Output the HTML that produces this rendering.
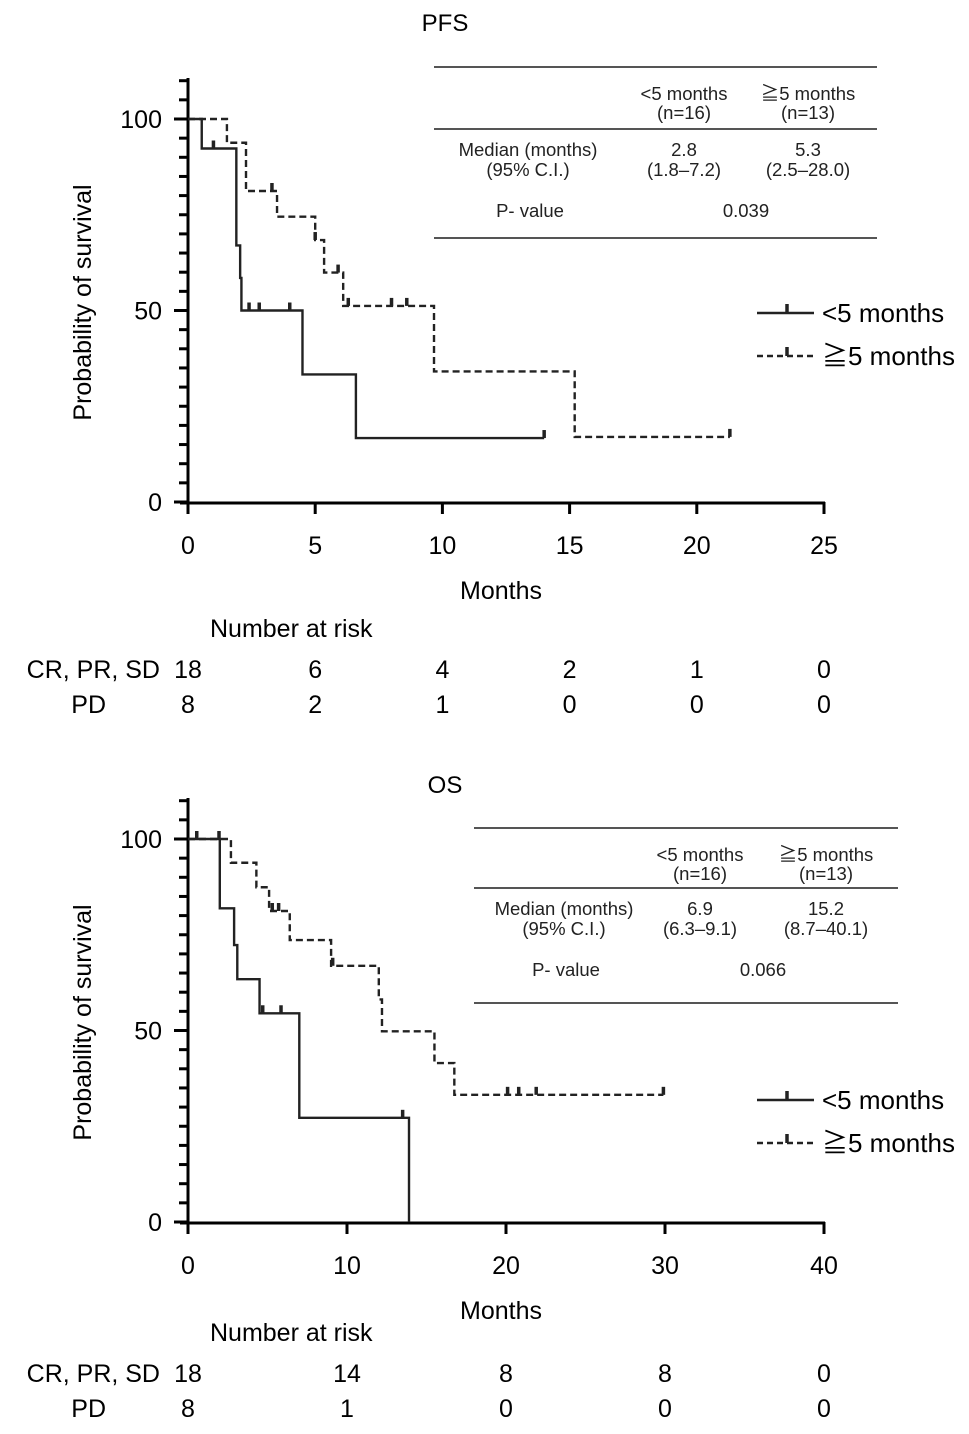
<!DOCTYPE html>
<html><head><meta charset="utf-8"><style>
body{margin:0;background:#fff;}
svg{display:block;font-family:"Liberation Sans","Noto Sans CJK JP",sans-serif;}
</style></head><body>
<svg id="c" width="969" height="1434" viewBox="0 0 969 1434"></svg>
<script>
// PFS data
const pfsXTicks=[0,5,10,15,20,25];
const pfsLt5Steps=[[0,100],[0.54,92.3],[1.9,67],[2.05,58.5],[2.1,50],[4.5,33.3],[6.6,16.7],[14.0,16.7]];
const pfsLt5Cens=[[1.0,92.3],[2.4,50],[2.8,50],[4.0,50],[14.0,16.7]];
const pfsGe5Steps=[[0,100],[1.53,93.8],[2.28,81.2],[3.5,74.5],[5.0,68.4],[5.35,59.9],[6.1,51.2],[9.67,34.1],[15.2,17],[21.3,17]];
const pfsGe5Cens=[[3.3,81.2],[5.0,68.4],[5.9,59.9],[6.3,51.2],[8.0,51.2],[8.6,51.2],[21.3,17]];
const pfsRiskA=["18","6","4","2","1","0"];
const pfsRiskB=["8","2","1","0","0","0"];
// OS data
const osXTicks=[0,10,20,30,40];
const osLt5Steps=[[0,100],[2.0,81.9],[2.9,72.3],[3.1,63.4],[4.5,54.5],[7.0,27.2],[13.9,27.2],[13.9,0]];
const osLt5Cens=[[0.55,100],[1.95,100],[4.7,54.5],[5.85,54.5],[13.5,27.2]];
const osGe5Steps=[[0,100],[2.7,93.8],[4.3,87.4],[5.1,81.2],[6.4,73.6],[9.0,66.9],[12.0,58.1],[12.2,49.8],[15.5,41.5],[16.75,33.2],[29.9,33.2]];
const osGe5Cens=[[5.3,81.2],[5.7,81.2],[9.1,66.9],[20.1,33.2],[20.8,33.2],[21.9,33.2],[29.9,33.2]];
const osRiskA=["18","14","8","8","0"];
const osRiskB=["8","1","0","0","0"];

const svg=document.getElementById('c');
const NS='http://www.w3.org/2000/svg';
function mk(tag,attrs,parent,text){const e=document.createElementNS(NS,tag);for(const k in attrs)e.setAttribute(k,attrs[k]);if(text!==undefined)e.textContent=text;(parent||svg).appendChild(e);return e;}

function panel(o){
  const g=mk('g',{});
  
  
  const x0=188,x1=824,y100=o.y100,y0=o.y0;
  const X=v=>x0+(v/o.xmax)*(x1-x0);
  const Y=v=>y0-(v/100)*(y0-y100);
  const t=mk('text',{x:445,y:o.titleY,'font-size':24,'text-anchor':'middle'},g,o.title);
  
  const ax=mk('path',{d:`M${x0},${o.yTop} V${y0+1} M${x0-8},${y0+1} H${x1+1}`,stroke:'#000','stroke-width':3,fill:'none'},g);
  
  for(let v=0;Y(v)>=o.yTop-1;v+=5){
    const major=v%50===0;
    mk('line',{x1:major?x0-14:x0-9,x2:x0,y1:Y(v),y2:Y(v),stroke:'#000','stroke-width':3},g);
    if(major){const l=mk('text',{x:162,y:Y(v)+9,'font-size':25,'text-anchor':'end'},g,String(v));}
  }
  o.xticks.forEach(v=>{
    mk('line',{x1:X(v),x2:X(v),y1:y0,y2:y0+12,stroke:'#000','stroke-width':3},g);
    const l=mk('text',{x:X(v),y:y0+52,'font-size':25,'text-anchor':'middle'},g,String(v));
    
  });
  const yt=mk('text',{x:0,y:0,'font-size':25,'text-anchor':'middle',transform:`translate(91,${(y0+y100)/2-8}) rotate(-90)`},g,'Probability of survival');
  
  const xt=mk('text',{x:501,y:y0+97,'font-size':25,'text-anchor':'middle'},g,'Months');
  
  function curve(steps,cens,dash,name){
    let d=`M${X(steps[0][0])},${Y(steps[0][1])}`;
    for(let i=1;i<steps.length;i++){d+=` H${X(steps[i][0])} V${Y(steps[i][1])}`;}
    const p=mk('path',{d,stroke:'#222','stroke-width':2.4,fill:'none','stroke-dasharray':dash?'7,4':'none'},g);
    
    cens.forEach(c=>{const m=mk('line',{x1:X(c[0]),x2:X(c[0]),y1:Y(c[1]),y2:Y(c[1])-8,stroke:'#222','stroke-width':3.5},g);
      });
  }
  curve(o.a,o.ac,false,o.id+'-lt5');
  curve(o.b,o.bc,true,o.id+'-ge5');
  const T=o.tab;
  [T.l1,T.l2,T.l3].forEach(y=>mk('line',{x1:T.x1,x2:T.x2,y1:y,y2:y,stroke:'#555','stroke-width':2},g));
  const tt=(x,y,s)=>{const e=mk('text',{x,y,'font-size':18.5,'text-anchor':'middle',fill:'#222'},g,s);};
  tt(T.c1,T.l1+33,'<5 months');tt(T.c1,T.l1+52,'(n=16)');
  tt(T.c2,T.l1+33,'≧5 months');tt(T.c2,T.l1+52,'(n=13)');
  tt(T.c0,T.l2+27,'Median (months)');tt(T.c0,T.l2+47,'(95% C.I.)');
  tt(T.c1,T.l2+27,T.m1);tt(T.c1,T.l2+47,T.ci1);
  tt(T.c2,T.l2+27,T.m2);tt(T.c2,T.l2+47,T.ci2);
  tt(T.c0+2,T.l2+88,'P- value');tt((T.c1+T.c2)/2,T.l2+88,T.p);
  const ly=o.legY;
  mk('line',{x1:757,x2:814,y1:ly,y2:ly,stroke:'#222','stroke-width':2.5},g);
  mk('line',{x1:787,x2:787,y1:ly,y2:ly-9,stroke:'#222','stroke-width':3.5},g);
  mk('line',{x1:757,x2:814,y1:ly+43,y2:ly+43,stroke:'#222','stroke-width':2.5,'stroke-dasharray':'6,4'},g);
  mk('line',{x1:787,x2:787,y1:ly+43,y2:ly+34,stroke:'#222','stroke-width':3.5},g);
  const l1=mk('text',{x:822,y:ly+9,'font-size':26},g,'<5 months');
  const l2=mk('text',{x:822,y:ly+52,'font-size':26},g,'≧5 months');
  const nr=mk('text',{x:210,y:o.riskY,'font-size':25},g,'Number at risk');
  mk('text',{x:160,y:o.riskY+41,'font-size':25,'text-anchor':'end'},g,'CR, PR, SD');
  mk('text',{x:106,y:o.riskY+76,'font-size':25,'text-anchor':'end'},g,'PD');
  o.xticks.forEach((v,i)=>{
    const a=mk('text',{x:X(v),y:o.riskY+41,'font-size':25,'text-anchor':'middle'},g,o.ra[i]);
    const b=mk('text',{x:X(v),y:o.riskY+76,'font-size':25,'text-anchor':'middle'},g,o.rb[i]);
  });
}
panel({id:'pfs',title:'PFS',titleY:31,xmax:25,y100:119,y0:502,yTop:78,xticks:pfsXTicks,
  a:pfsLt5Steps,ac:pfsLt5Cens,b:pfsGe5Steps,bc:pfsGe5Cens,
  tab:{x1:434,x2:877,l1:67,l2:129,l3:238,c0:528,c1:684,c2:808,m1:'2.8',ci1:'(1.8–7.2)',m2:'5.3',ci2:'(2.5–28.0)',p:'0.039'},
  legY:313,riskY:637,ra:pfsRiskA,rb:pfsRiskB});
panel({id:'os',title:'OS',titleY:793,xmax:40,y100:839,y0:1222,yTop:798,xticks:osXTicks,
  a:osLt5Steps,ac:osLt5Cens,b:osGe5Steps,bc:osGe5Cens,
  tab:{x1:474,x2:898,l1:828,l2:888,l3:1003,c0:564,c1:700,c2:826,m1:'6.9',ci1:'(6.3–9.1)',m2:'15.2',ci2:'(8.7–40.1)',p:'0.066'},
  legY:1100,riskY:1341,ra:osRiskA,rb:osRiskB});
</script>
</body></html>
